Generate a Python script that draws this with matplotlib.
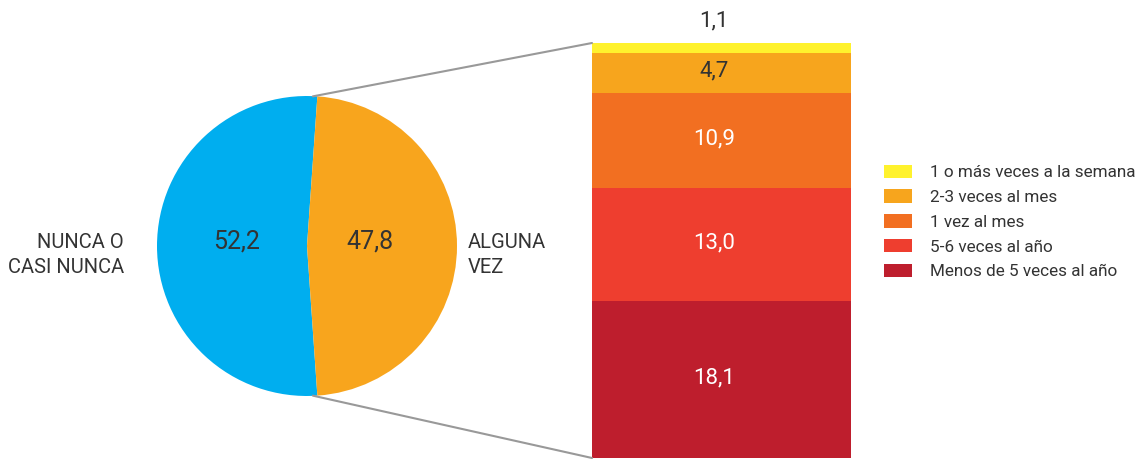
import matplotlib
matplotlib.use("Agg")
import matplotlib.pyplot as plt
from matplotlib.patches import ConnectionPatch, Patch
import numpy as np

plt.rcParams['font.family'] = ['Roboto', 'DejaVu Sans']

# ---- data ----
pie_labels = ["NUNCA O\nCASI NUNCA", "ALGUNA\nVEZ"]
pie_values = [52.2, 47.8]
pie_colors = ["#00AEEF", "#F8A51D"]

bar_categories = ["Menos de 5 veces al año", "5-6 veces al año", "1 vez al mes",
                  "2-3 veces al mes", "1 o más veces a la semana"]
bar_values = [18.1, 13.0, 10.9, 4.7, 1.1]
bar_colors = ["#BE1E2D", "#EE3E2F", "#F26F21", "#F7A51D", "#FFF22D"]
bar_text_colors = ["white", "white", "white", "#333333", "#333333"]

def fmt(v):
    return f"{v:.1f}".replace(".", ",")

W, H = 1144, 459
fig = plt.figure(figsize=(W / 100, H / 100), dpi=100)
TXT = "#333333"

# ---- pie ----
cx, cy, r = 307, 246, 150
ax_pie = fig.add_axes([(cx - r) / W, (H - cy - r) / H, 2 * r / W, 2 * r / H])
half_orange = pie_values[1] / 100 * 360 / 2
wedges, _ = ax_pie.pie(pie_values, colors=pie_colors, startangle=-half_orange - pie_values[0] / 100 * 360,
                       radius=1, wedgeprops=dict(linewidth=0))
ax_pie.set_xlim(-1, 1)
ax_pie.set_ylim(-1, 1)
ax_pie.set_aspect("equal")
ax_pie.axis("off")
ax_pie.text(-0.47, 0.03, fmt(pie_values[0]), ha="center", va="center", fontsize=18, color=TXT)
ax_pie.text(0.42, 0.03, fmt(pie_values[1]), ha="center", va="center", fontsize=18, color=TXT)
fig.text(124 / W, 1 - 255 / H, pie_labels[0], ha="right", va="center", multialignment="right",
         fontsize=14.5, color=TXT, linespacing=1.4)
fig.text(468 / W, 1 - 255 / H, pie_labels[1], ha="left", va="center",
         fontsize=14.5, color=TXT, linespacing=1.4)

# ---- stacked bar ----
bx0, bx1, by0, by1 = 592, 851, 43, 458
ax_bar = fig.add_axes([bx0 / W, (H - by1) / H, (bx1 - bx0) / W, (by1 - by0) / H])
total = sum(bar_values)
bottom = 0
for v, c, tc, lab in zip(bar_values, bar_colors, bar_text_colors, bar_categories):
    ax_bar.bar(0.5, v, width=1, bottom=bottom, color=c, linewidth=0)
    if v > 3:
        ax_bar.text(0.47, bottom + v / 2 + 0.2, fmt(v), ha="center", va="center", fontsize=16, color=tc)
    else:
        ax_bar.text(0.47, bottom + v + 1.3, fmt(v), ha="center", va="bottom", fontsize=16, color=tc)
    bottom += v
ax_bar.set_xlim(0, 1)
ax_bar.set_ylim(0, total)
ax_bar.axis("off")

# ---- connecting lines ----
theta = np.deg2rad(half_orange)
for y_pie, y_bar in [(np.sin(theta), total), (-np.sin(theta), 0)]:
    con = ConnectionPatch(xyA=(np.cos(theta) - 0.03, y_pie), coordsA=ax_pie.transData,
                          xyB=(0, y_bar), coordsB=ax_bar.transData,
                          color="#999999", linewidth=1.5)
    fig.add_artist(con)

# ---- legend ----
leg_handles = [Patch(facecolor=c, edgecolor="none") for c in bar_colors[::-1]]
fig.legend(leg_handles, bar_categories[::-1], loc="center left",
           bbox_to_anchor=(884 / W, 1 - 222 / H), frameon=False, fontsize=12.3,
           handlelength=1.63, handleheight=0.82, handletextpad=1.05,
           labelspacing=0.54, labelcolor=TXT, borderpad=0, borderaxespad=0)

fig.savefig("out.png", dpi=100, facecolor="white")
